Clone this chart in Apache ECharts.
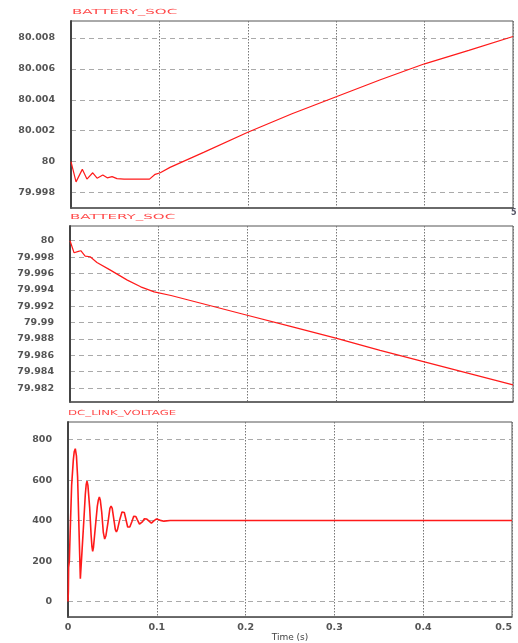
<!DOCTYPE html>
<html>
<head>
<meta charset="utf-8">
<script src="https://cdn.jsdelivr.net/npm/echarts@6/dist/echarts.min.js"></script>
<style>
  html, body { margin: 0; padding: 0; background: #fff; }
  #chart { width: 518px; height: 643px; }
</style>
</head>
<body>
<div id="chart"></div>
<script>
// Battery state of charge (charging case), time in s and SOC in %
const socUpTime = [0, 0.001, 0.0057, 0.0128, 0.018, 0.0246, 0.0295, 0.036, 0.041, 0.0465, 0.052, 0.06, 0.075, 0.0888, 0.0952, 0.101, 0.112, 0.15, 0.2, 0.25, 0.3, 0.35, 0.4, 0.45, 0.5];
const socUpValue = [80.0, 79.9999, 79.99869, 79.9995, 79.99887, 79.99928, 79.99893, 79.99913, 79.99895, 79.99903, 79.9989, 79.99887, 79.99887, 79.99887, 79.99918, 79.99928, 79.99963, 80.0006, 80.0019, 80.0031, 80.0042, 80.0053, 80.00633, 80.0072, 80.0081];

// Battery state of charge (discharging case)
const socDownTime = [0, 0.001, 0.0046, 0.0095, 0.0122, 0.0171, 0.0228, 0.0304, 0.0456, 0.0647, 0.0798, 0.095, 0.114, 0.15, 0.2, 0.25, 0.3, 0.35, 0.4, 0.45, 0.5];
const socDownValue = [80.0, 79.99996, 79.99853, 79.9987, 79.99878, 79.99813, 79.99804, 79.99735, 79.99641, 79.99519, 79.99437, 79.99375, 79.99331, 79.9923, 79.9909, 79.9895, 79.9881, 79.9866, 79.9852, 79.9838, 79.9824];

// DC link voltage in V
const dcTime = [0, 0.0004, 0.0007, 0.0015, 0.0023, 0.0041, 0.006, 0.007, 0.0082, 0.0095, 0.0108, 0.0124, 0.0139, 0.0158, 0.0176, 0.0195, 0.0205, 0.0214, 0.0224, 0.0244, 0.026, 0.027, 0.0278, 0.0287, 0.0308, 0.033, 0.0342, 0.0353, 0.0364, 0.038, 0.0398, 0.0413, 0.0427, 0.045, 0.0472, 0.0485, 0.0498, 0.0515, 0.0533, 0.0545, 0.0557, 0.058, 0.0608, 0.0621, 0.0634, 0.065, 0.0672, 0.0684, 0.0696, 0.072, 0.074, 0.0752, 0.0764, 0.078, 0.0805, 0.0816, 0.0827, 0.084, 0.086, 0.0872, 0.0884, 0.091, 0.0939, 0.097, 0.0997, 0.104, 0.108, 0.115, 0.2, 0.3, 0.4, 0.5];
const dcValue = [0, 48, 168, 200, 320, 575, 700, 740, 755, 720, 617, 354, 113, 250, 383, 530, 578, 594, 575, 464, 330, 270, 248, 268, 368, 470, 502, 516, 500, 440, 340, 309, 325, 390, 460, 472, 460, 410, 355, 344, 355, 400, 442, 448, 440, 410, 368, 363, 368, 395, 421, 424, 420, 405, 382, 379, 382, 395, 409, 411, 408, 398, 387, 400, 408, 401, 397, 400, 400, 400, 400, 400];

// Tick labels
const timeTicks = [0, 0.1, 0.2, 0.3, 0.4, 0.5];
const socUpTicks = [79.998, 80, 80.002, 80.004, 80.006, 80.008];
const socDownTicks = [79.982, 79.984, 79.986, 79.988, 79.99, 79.992, 79.994, 79.996, 79.998, 80];
const dcTicks = [0, 200, 400, 600, 800];

const zip = (xs, ys) => xs.map((x, i) => [x, ys[i]]);

const labelStyle = {
  color: '#555',
  fontFamily: 'DejaVu Sans',
  fontWeight: 'bold',
  fontSize: 9.5
};

function makeX(gridIndex, showLabels) {
  return {
    type: 'value', gridIndex: gridIndex, min: 0, max: 0.5, interval: 0.1,
    axisLine: { show: true, onZero: false, lineStyle: { color: '#555', width: 1.5 } },
    axisTick: { show: false, customValues: timeTicks },
    axisLabel: Object.assign({ show: showLabels, margin: 5, customValues: timeTicks, formatter: v => String(+v.toFixed(1)), alignMaxLabel: 'right' }, labelStyle),
    splitLine: { show: true, lineStyle: { color: '#777', type: [1.5, 1.5], width: 1 } },
    name: showLabels ? 'Time (s)' : '',
    nameLocation: 'middle',
    nameGap: 15,
    nameTextStyle: { color: '#444', fontFamily: 'DejaVu Sans', fontSize: 9 }
  };
}

function makeY(gridIndex, min, max, ticks) {
  return {
    type: 'value', gridIndex: gridIndex, min: min, max: max,
    axisLine: { show: true, onZero: false, lineStyle: { color: '#444', width: 2 } },
    axisTick: { show: false, customValues: ticks },
    axisLabel: Object.assign({ customValues: ticks, margin: 16, formatter: v => String(+v.toFixed(3)) }, labelStyle),
    splitLine: { show: true, lineStyle: { color: '#aaa', type: [5, 4], width: 1 } }
  };
}

function makeSeries(idx, data, width) {
  return {
    type: 'line', xAxisIndex: idx, yAxisIndex: idx, data: data,
    showSymbol: false, symbol: 'none',
    lineStyle: { color: '#ff1a1a', width: width },
    animation: false
  };
}

// Panel captions drawn in a small, widened face
function caption(text, x, y, stretch) {
  return {
    type: 'text', x: x, y: y, scaleX: stretch,
    style: { text: text, fill: '#ff4a4a', font: '7px "DejaVu Sans"', textVerticalAlign: 'middle' }
  };
}

const chart = echarts.init(document.getElementById('chart'), null, { renderer: 'canvas' });
chart.setOption({
  animation: false,
  backgroundColor: '#fff',
  grid: [
    { left: 71, right: 5, top: 21, height: 187, show: true, borderColor: '#555', borderWidth: 1 },
    { left: 70, right: 5, top: 226, height: 176, show: true, borderColor: '#555', borderWidth: 1 },
    { left: 68, right: 6, top: 422, height: 201, show: true, borderColor: '#555', borderWidth: 1 }
  ],
  xAxis: [makeX(0, false), makeX(1, false), makeX(2, true)],
  yAxis: [
    makeY(0, 79.997, 80.0091, socUpTicks),
    makeY(1, 79.9803, 80.0018, socDownTicks),
    makeY(2, -77, 887, dcTicks)
  ],
  series: [
    makeSeries(0, zip(socUpTime, socUpValue), 1.2),
    makeSeries(1, zip(socDownTime, socDownValue), 1.2),
    makeSeries(2, zip(dcTime, dcValue), 1.6)
  ],
  graphic: [
    caption('BATTERY_SOC', 72, 12, 2.15),
    caption('BATTERY_SOC', 70, 217, 2.15),
    caption('DC_LINK_VOLTAGE', 68, 413, 1.68),
    { type: 'text', x: 511, y: 209, style: { text: '5', fill: '#556', font: 'bold 8px "DejaVu Sans"' } }
  ]
});
</script>
</body>
</html>
